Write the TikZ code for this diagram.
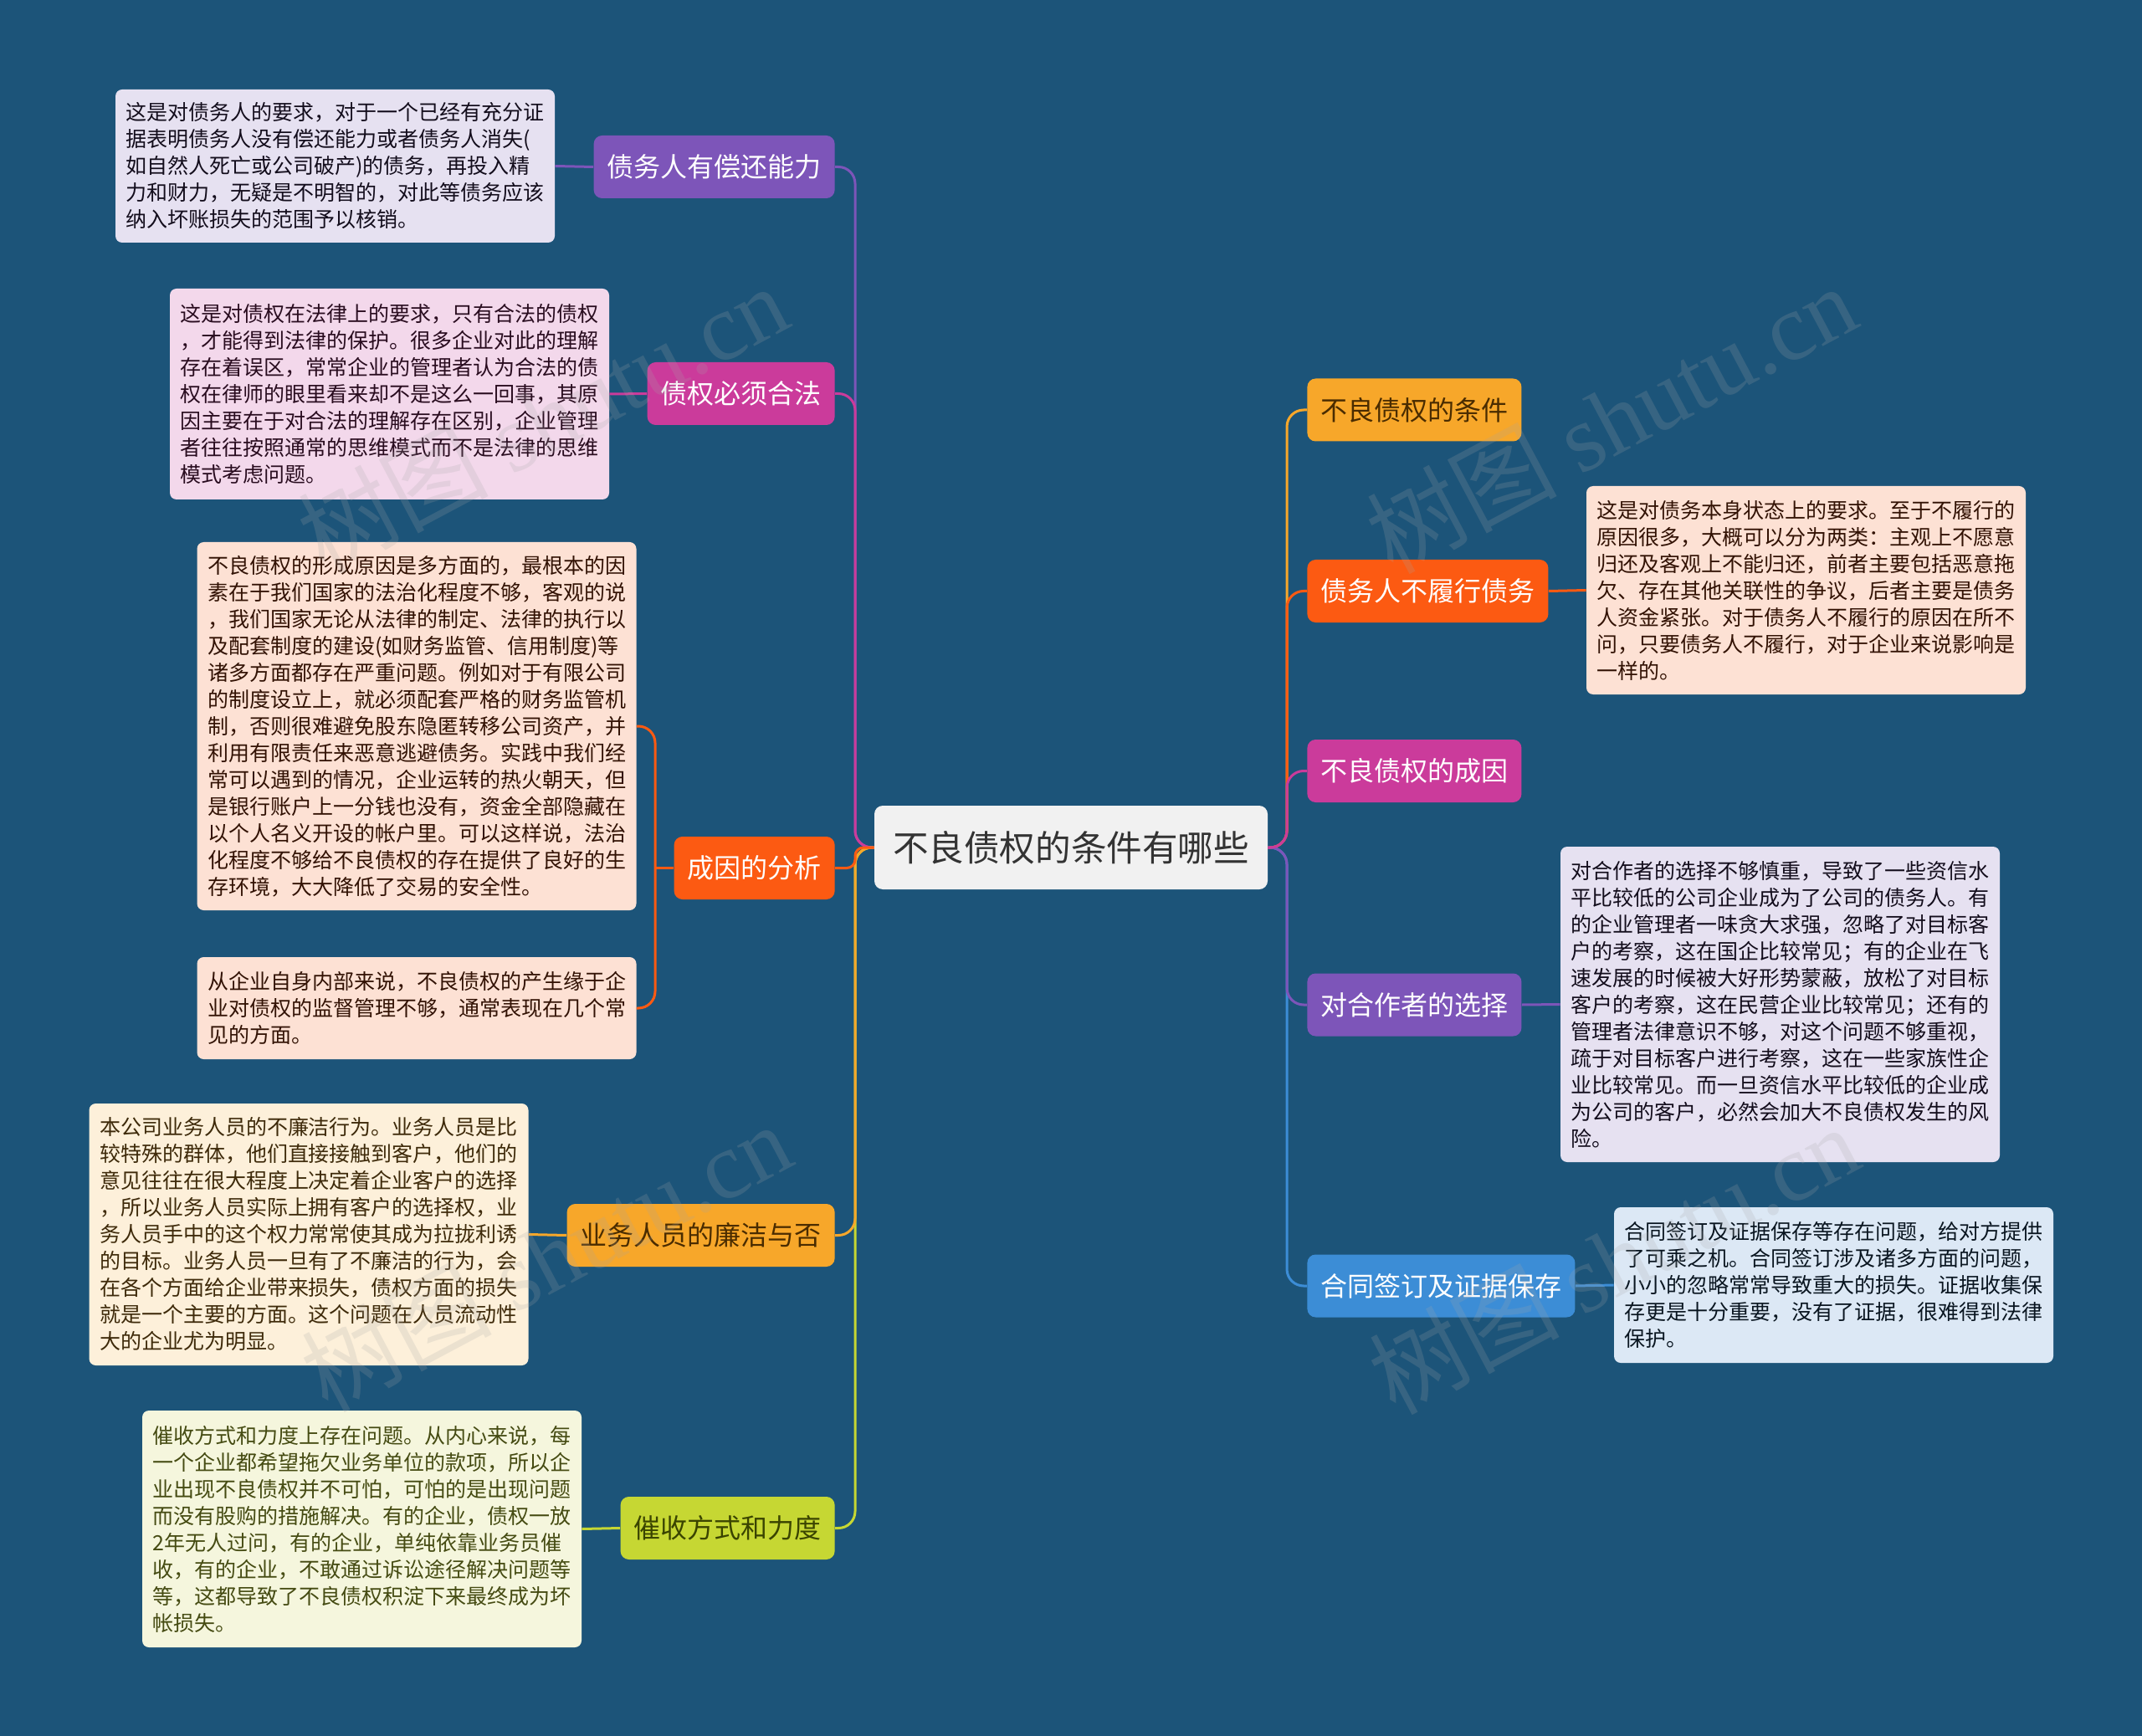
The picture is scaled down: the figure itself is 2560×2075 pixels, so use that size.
\documentclass[tikz,border=0pt]{standalone}
\usepackage{fontspec}
\setmainfont{Noto Sans CJK SC}
\newfontfamily\wmfont{Liberation Serif}
\usepackage{xcolor}
\usepackage{tikz}

\definecolor{bg}{HTML}{1C5479}
\definecolor{rootFill}{HTML}{F1F1F1}
\definecolor{rootText}{HTML}{333333}
\definecolor{cPurple}{HTML}{7D55B9}
\definecolor{cMagenta}{HTML}{CB3B9B}
\definecolor{cRed}{HTML}{FC5A12}
\definecolor{cAmber}{HTML}{F7A72A}
\definecolor{cLime}{HTML}{C6D733}
\definecolor{cBlue}{HTML}{3C8DD6}
\definecolor{amberText}{HTML}{4A2C00}
\definecolor{limeText}{HTML}{3A4400}
\definecolor{noteLilac}{HTML}{E6E1F1}
\definecolor{notePink}{HTML}{F3D8EB}
\definecolor{notePeach}{HTML}{FDE1D4}
\definecolor{noteCream}{HTML}{FDF0DA}
\definecolor{noteLime}{HTML}{F5F6DD}
\definecolor{noteBlue}{HTML}{DCE8F5}

\begin{document}
\begin{tikzpicture}[x=0.5pt,y=-0.5pt]
			\tikzstyle{root} = [fill=rootFill, text=rootText, rounded corners=5pt, minimum width=235pt, minimum height=50pt, font=\fontsize{21.3pt}{26pt}\selectfont]
			\tikzstyle{topic} = [rounded corners=5pt, minimum height=37.5pt, inner xsep=8pt, font=\fontsize{16pt}{20pt}\selectfont]
			\tikzstyle{note} = [rounded corners=4pt, text width=250pt, align=left, inner xsep=6.25pt, font=\fontsize{12.5pt}{16pt}\selectfont]
			\tikzstyle{watermark} = [text=gray!70, opacity=0.2, rotate=28, font=\fontsize{57pt}{57pt}\selectfont]
			\tikzset{branch/.style = {line width=1.5pt, rounded corners=10pt}}

			\fill[bg] (0,0) rectangle (2560,2075);
			\useasboundingbox (0,0) rectangle (2560,2075);

			% root
			\node[root](root) at (1280,1013) {不良债权的条件有哪些};
			\coordinate (trunkL) at (1022,1013);
			\coordinate (trunkR) at (1538,1013);

			% left topics
			\node[topic, fill=cPurple, text=white, anchor=east](solvency)   at (998,199.5)  {债务人有偿还能力};
			\node[topic, fill=cMagenta, text=white, anchor=east](legal)     at (998,470.5)  {债权必须合法};
			\node[topic, fill=cRed, text=white, anchor=east](cause)         at (998,1037.5) {成因的分析};
			\node[topic, fill=cAmber, text=amberText, anchor=east](honesty) at (998,1476.5) {业务人员的廉洁与否};
			\node[topic, fill=cLime, text=limeText, anchor=east](dunning)   at (998,1826.5) {催收方式和力度};

			% right topics
			\node[topic, fill=cAmber, text=amberText, anchor=west](terms) at (1562,490)    {不良债权的条件};
			\node[topic, fill=cRed, text=white, anchor=west](breach)      at (1562,706.5)  {债务人不履行债务};
			\node[topic, fill=cMagenta, text=white, anchor=west](origin)  at (1562,921.5)  {不良债权的成因};
			\node[topic, fill=cPurple, text=white, anchor=west](partner)  at (1562,1201)   {对合作者的选择};
			\node[topic, fill=cBlue, text=white, anchor=west](contract)   at (1562,1537)   {合同签订及证据保存};

			% left notes
			\node[note, fill=noteLilac, text=black!85!cPurple, minimum height=91.5pt](solvencyNote) at (400.5,198.5) {这是对债务人的要求，对于一个已经有充分证\\据表明债务人没有偿还能力或者债务人消失(\\如自然人死亡或公司破产)的债务，再投入精\\力和财力，无疑是不明智的，对此等债务应该\\纳入坏账损失的范围予以核销。};
			\node[note, fill=notePink, text=black!80!cMagenta, minimum height=126pt](legalNote) at (465.5,471) {这是对债权在法律上的要求，只有合法的债权\\，才能得到法律的保护。很多企业对此的理解\\存在着误区，常常企业的管理者认为合法的债\\权在律师的眼里看来却不是这么一回事，其原\\因主要在于对合法的理解存在区别，企业管理\\者往往按照通常的思维模式而不是法律的思维\\模式考虑问题。};
			\node[note, fill=notePeach, text=black!80!cRed, minimum height=220pt](causeNoteA) at (498,868) {不良债权的形成原因是多方面的，最根本的因\\素在于我们国家的法治化程度不够，客观的说\\，我们国家无论从法律的制定、法律的执行以\\及配套制度的建设(如财务监管、信用制度)等\\诸多方面都存在严重问题。例如对于有限公司\\的制度设立上，就必须配套严格的财务监管机\\制，否则很难避免股东隐匿转移公司资产，并\\利用有限责任来恶意逃避债务。实践中我们经\\常可以遇到的情况，企业运转的热火朝天，但\\是银行账户上一分钱也没有，资金全部隐藏在\\以个人名义开设的帐户里。可以这样说，法治\\化程度不够给不良债权的存在提供了良好的生\\存环境，大大降低了交易的安全性。};
			\node[note, fill=notePeach, text=black!80!cRed, minimum height=61pt](causeNoteB) at (498,1205) {从企业自身内部来说，不良债权的产生缘于企\\业对债权的监督管理不够，通常表现在几个常\\见的方面。};
			\node[note, fill=noteCream, text=black!75!cAmber, minimum height=156.5pt](honestyNote) at (369,1475.5) {本公司业务人员的不廉洁行为。业务人员是比\\较特殊的群体，他们直接接触到客户，他们的\\意见往往在很大程度上决定着企业客户的选择\\，所以业务人员实际上拥有客户的选择权，业\\务人员手中的这个权力常常使其成为拉拢利诱\\的目标。业务人员一旦有了不廉洁的行为，会\\在各个方面给企业带来损失，债权方面的损失\\就是一个主要的方面。这个问题在人员流动性\\大的企业尤为明显。};
			\node[note, fill=noteLime, text=black!65!cLime, minimum height=141.5pt](dunningNote) at (432.5,1827.5) {催收方式和力度上存在问题。从内心来说，每\\一个企业都希望拖欠业务单位的款项，所以企\\业出现不良债权并不可怕，可怕的是出现问题\\而没有股购的措施解决。有的企业，债权一放\\2年无人过问，有的企业，单纯依靠业务员催\\收，有的企业，不敢通过诉讼途径解决问题等\\等，这都导致了不良债权积淀下来最终成为坏\\帐损失。};

			% right notes
			\node[note, fill=notePeach, text=black!80!cRed, minimum height=124.5pt](breachNote) at (2158.5,705.5) {这是对债务本身状态上的要求。至于不履行的\\原因很多，大概可以分为两类：主观上不愿意\\归还及客观上不能归还，前者主要包括恶意拖\\欠、存在其他关联性的争议，后者主要是债务\\人资金紧张。对于债务人不履行的原因在所不\\问，只要债务人不履行，对于企业来说影响是\\一样的。};
			\node[note, fill=noteLilac, text=black!85!cPurple, minimum height=188.5pt](partnerNote) at (2127.5,1200.5) {对合作者的选择不够慎重，导致了一些资信水\\平比较低的公司企业成为了公司的债务人。有\\的企业管理者一味贪大求强，忽略了对目标客\\户的考察，这在国企比较常见；有的企业在飞\\速发展的时候被大好形势蒙蔽，放松了对目标\\客户的考察，这在民营企业比较常见；还有的\\管理者法律意识不够，对这个问题不够重视，\\疏于对目标客户进行考察，这在一些家族性企\\业比较常见。而一旦资信水平比较低的企业成\\为公司的客户，必然会加大不良债权发生的风\\险。};
			\node[note, fill=noteBlue, text=black!85!cBlue, minimum height=93pt](contractNote) at (2191.5,1536) {合同签订及证据保存等存在问题，给对方提供\\了可乘之机。合同签订涉及诸多方面的问题，\\小小的忽略常常导致重大的损失。证据收集保\\存更是十分重要，没有了证据，很难得到法律\\保护。};

			% branches, outer ones first
			\draw[branch, cPurple]  (root.west) -- (trunkL) |- (solvency.east);
			\draw[branch, cLime]    (root.west) -- (trunkL) |- (dunning.east);
			\draw[branch, cMagenta] (root.west) -- (trunkL) |- (legal.east);
			\draw[branch, cAmber]   (root.west) -- (trunkL) |- (honesty.east);
			\draw[branch, cRed, rounded corners=5pt] (root.west) -- (trunkL) |- (cause.east);

			\draw[branch, cAmber]   (root.east) -- (trunkR) |- (terms.west);
			\draw[branch, cBlue]    (root.east) -- (trunkR) |- (contract.west);
			\draw[branch, cRed]     (root.east) -- (trunkR) |- (breach.west);
			\draw[branch, cPurple]  (root.east) -- (trunkR) |- (partner.west);
			\draw[branch, cMagenta] (root.east) -- (trunkR) |- (origin.west);

			% topic to note
			\coordinate (causeFork) at (783,1037.5);
			\draw[branch, cPurple]  (solvency.west) -- (solvencyNote.east);
			\draw[branch, cMagenta] (legal.west) -- (legalNote.east);
			\draw[branch, cRed]     (cause.west) -- (causeFork);
			\draw[branch, cRed]     (causeNoteA.east) -| (causeFork) |- (causeNoteB.east);
			\draw[branch, cAmber]   (honesty.west) -- (honestyNote.east);
			\draw[branch, cLime]    (dunning.west) -- (dunningNote.east);
			\draw[branch, cRed]     (breach.east) -- (breachNote.west);
			\draw[branch, cPurple]  (partner.east) -- (partnerNote.west);
			\draw[branch, cBlue]    (contract.east) -- (contractNote.west);

			% watermarks
			\node[watermark](wm1) at (648,500)   {树图 {\wmfont shutu.cn}};
			\node[watermark](wm2) at (652,1502)  {树图 {\wmfont shutu.cn}};
			\node[watermark](wm3) at (1925,500)  {树图 {\wmfont shutu.cn}};
			\node[watermark](wm4) at (1928,1505) {树图 {\wmfont shutu.cn}};
\end{tikzpicture}
\end{document}
